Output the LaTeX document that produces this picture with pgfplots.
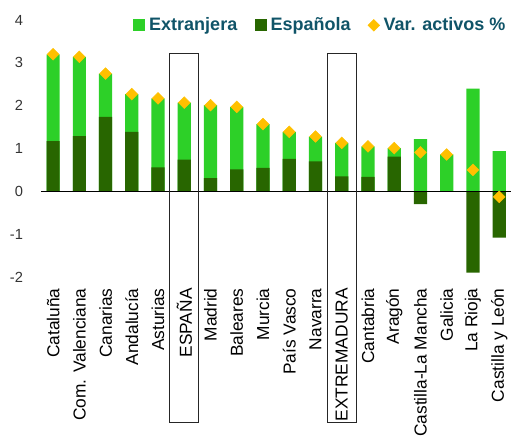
\documentclass[border=0pt]{standalone}
\usepackage{fontspec}
\setmainfont{Liberation Sans}
\usepackage{pgfplots}
\pgfplotsset{compat=1.18}
\usepackage{pgfplotstable}
\definecolor{ext}{RGB}{45,208,40}
\definecolor{esp}{RGB}{40,102,0}
\definecolor{var}{RGB}{255,192,0}
\definecolor{legtxt}{RGB}{16,84,104}

\pgfplotstableread{
x top esp var
0 3.20 1.17 3.20
1 3.14 1.29 3.14
2 2.75 1.74 2.75
3 2.27 1.39 2.27
4 2.17 0.56 2.17
5 2.07 0.74 2.07
6 2.01 0.31 2.01
7 1.97 0.51 1.97
8 1.57 0.55 1.57
9 1.39 0.76 1.39
10 1.28 0.70 1.28
11 1.13 0.35 1.13
12 1.05 0.34 1.05
13 1.01 0.81 1.01
14 1.22 -0.30 0.91
15 0.86 0.00 0.86
16 2.40 -1.90 0.50
17 0.94 -1.08 -0.13
}\data

\begin{document}
\begin{tikzpicture}
\begin{axis}[
  name=ax,
  width=352.5pt, height=192.75pt, scale only axis,
  xmin=-0.46, xmax=17.45, ymin=-2, ymax=4,
  clip=false,
  axis line style={draw=none},
  tick style={draw=none},
  ytick={-2,-1,0,1,2,3,4},
  /pgf/number format/assume math mode=true,
  yticklabel style={font=\fontsize{11}{13}\selectfont, text=black!80, xshift=-10pt},
  xtick={0,...,17},
  xticklabels={Cataluña, Com. Valenciana, Canarias, Andalucía, Asturias, ESPAÑA, Madrid, Baleares, Murcia, País Vasco, Navarra, EXTREMADURA, Cantabria, Aragón, Castilla-La Mancha, Galicia, La Rioja, Castilla y León},
  xticklabel style={rotate=90, anchor=east, font=\fontsize{13}{15}\selectfont, text=black},
  xticklabel shift=5pt,
  legend style={draw=none, fill=none, at={(1,1)}, anchor=east, yshift=-4pt, xshift=1pt,
    font=\bfseries\fontsize{13.5}{15}\selectfont, text=legtxt,
    legend columns=-1,
    /tikz/every odd column/.append style={column sep=1pt},
    /tikz/every even column/.append style={column sep=11pt}},
  legend cell align=left,
]
\addplot[ybar, bar width=0.5, bar shift=0pt, fill=ext, draw=none,
  legend image code/.code={\fill[ext] (0pt,-4.5pt) rectangle (9pt,4.5pt);}]
  table[x=x, y=top] {\data};
\addlegendentry{Extranjera}
\addplot[ybar, bar width=0.5, bar shift=0pt, fill=esp, draw=none,
  legend image code/.code={\fill[esp] (0pt,-4.5pt) rectangle (9pt,4.5pt);}]
  table[x=x, y=esp] {\data};
\addlegendentry{Española}
\draw[black, line width=0.8pt] (axis cs:-0.46,0) -- (axis cs:17.45,0);
\addplot[only marks, mark=square*, mark size=3.1pt, color=var, mark options={rotate=45}]
  table[x=x, y=var] {\data};
\addlegendentry{Var. activos \%}
\draw[black!85, line width=0.6pt] (axis cs:4.45,3.21) rectangle (axis cs:5.55,-5.4);
\draw[black!85, line width=0.6pt] (axis cs:10.45,3.21) rectangle (axis cs:11.55,-5.4);
\end{axis}
\pgfresetboundingbox
\path ([xshift=-30.75pt, yshift=-123pt]ax.south west) rectangle ([yshift=15pt]ax.north east);
\end{tikzpicture}
\end{document}
